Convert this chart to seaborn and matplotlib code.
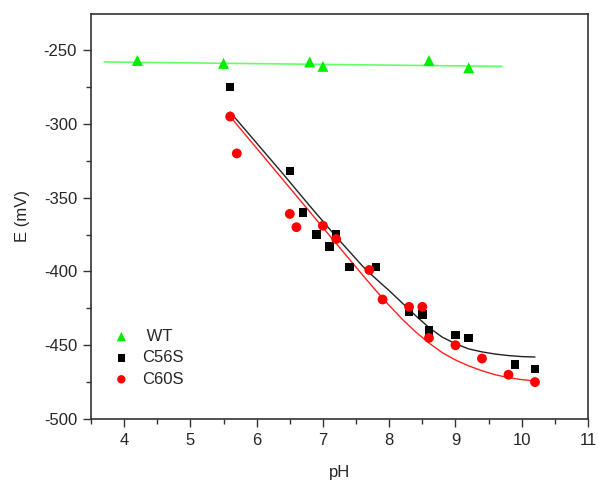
import matplotlib
matplotlib.use("Agg")
import matplotlib.pyplot as plt
import seaborn as sns
from matplotlib.ticker import MultipleLocator

sns.set_style("ticks")
plt.rcParams['font.family'] = ['Liberation Sans', 'DejaVu Sans']
plt.rcParams['axes.unicode_minus'] = False

# WT data
wt_ph = [4.2, 5.5, 6.8, 7.0, 8.6, 9.2]
wt_e = [-257, -259, -258, -261, -257, -262]
wt_fit_ph = [3.7, 9.7]
wt_fit_e = [-258, -261]

# C56S data
c56_ph = [5.6, 6.5, 6.7, 6.9, 7.1, 7.2, 7.4, 7.8, 8.3, 8.5, 8.6, 9.0, 9.2, 9.9, 10.2]
c56_e = [-275, -332, -360, -375, -383, -375, -397, -397, -427, -429, -440, -443, -445, -463, -466]
c56_fit_ph = [5.6, 6.0, 6.4, 6.8, 7.2, 7.6, 7.8, 8.0, 8.2, 8.4, 8.6, 8.8, 9.0, 9.2, 9.4, 9.6, 9.8, 10.0, 10.2]
c56_fit_e = [-292, -313, -334, -355.5, -376.5, -396.5, -405, -413, -421.5, -430, -438, -444.5, -449,
             -452.5, -454.5, -456, -457, -457.7, -458]

# C60S data
c60_ph = [5.6, 5.7, 6.5, 6.6, 7.0, 7.2, 7.7, 7.9, 8.3, 8.5, 8.6, 9.0, 9.4, 9.8, 10.2]
c60_e = [-295, -320, -361, -370, -369, -378, -399, -419, -424, -424, -445, -450, -459, -470, -475]
c60_fit_ph = [5.6, 6.0, 6.4, 6.8, 7.2, 7.6, 7.8, 8.0, 8.2, 8.4, 8.6, 8.8, 9.0, 9.2, 9.4, 9.6, 9.8, 10.0, 10.2]
c60_fit_e = [-295, -316.5, -338, -359.5, -381, -402.5, -413, -423, -432.5, -441, -448.5, -455, -460,
             -464, -467.3, -470, -472, -473.3, -474.2]

fig = plt.figure(figsize=(5.98, 4.82), dpi=100)
ax = fig.add_axes([91/598, 1-419/482, 497/598, 405/482])

sns.lineplot(x=wt_fit_ph, y=wt_fit_e, ax=ax, color='#66ff66', lw=1.2, legend=False)
sns.lineplot(x=c56_fit_ph, y=c56_fit_e, ax=ax, color='#222222', lw=1.0, legend=False)
sns.lineplot(x=c60_fit_ph, y=c60_fit_e, ax=ax, color='#ff2020', lw=1.0, legend=False)

sns.scatterplot(x=wt_ph, y=wt_e, ax=ax, marker='^', color='#00ee00', s=62,
                edgecolor='none', label=' WT', zorder=3)
sns.scatterplot(x=c56_ph, y=c56_e, ax=ax, marker='s', color='black', s=38,
                edgecolor='none', label='C56S', zorder=3)
sns.scatterplot(x=c60_ph, y=c60_e, ax=ax, marker='o', color='red', s=50,
                edgecolor='none', label='C60S', zorder=3)

ax.set_xlim(3.5, 11)
ax.set_ylim(-500, -225.5)
ax.xaxis.set_major_locator(MultipleLocator(1))
ax.xaxis.set_minor_locator(MultipleLocator(0.5))
ax.yaxis.set_major_locator(MultipleLocator(50))
ax.yaxis.set_minor_locator(MultipleLocator(25))
ax.tick_params(which='major', direction='out', length=6, width=1, labelsize=12,
               color='#333333', pad=4)
ax.tick_params(which='minor', direction='out', length=3.5, width=1, color='#333333')
for sp in ax.spines.values():
    sp.set_linewidth(1.2)
    sp.set_color('#333333')

ax.set_xlabel('pH', fontsize=12, labelpad=12)
ax.set_ylabel('E (mV)', fontsize=12, labelpad=10)

leg = ax.legend(loc='upper left', bbox_to_anchor=(0.0443, 0.2222), frameon=False, fontsize=12,
                handlelength=1.0, handletextpad=0.75, labelspacing=0.38, borderaxespad=0,
                borderpad=0, markerscale=0.85)

fig.savefig('out.png', dpi=100)
